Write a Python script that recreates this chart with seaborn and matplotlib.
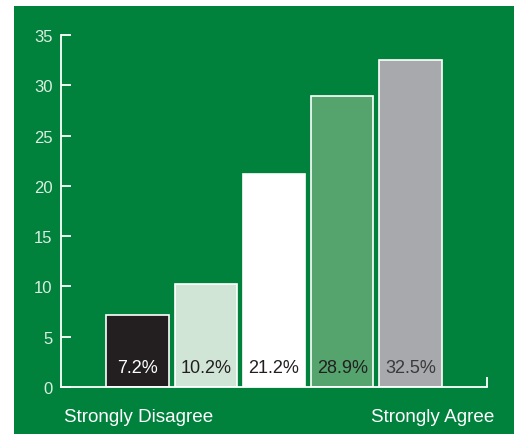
import matplotlib
matplotlib.use("Agg")
import matplotlib.pyplot as plt
import seaborn as sns
import pandas as pd
from matplotlib.patches import Rectangle

categories = ["1", "2", "3", "4", "5"]
values = [7.2, 10.2, 21.2, 28.9, 32.5]
labels = ["7.2%", "10.2%", "21.2%", "28.9%", "32.5%"]
bar_colors = ["#231f20", "#d1e5d6", "#ffffff", "#55a46e", "#a7a9ac"]
label_colors = ["#ffffff", "#231f20", "#231f20", "#231f20", "#3a3a3c"]
yticks = [0, 5, 10, 15, 20, 25, 30, 35]
end_labels = ["Strongly Disagree", "Strongly Agree"]

GREEN = "#00823d"
W, H = 514, 435

sns.set_theme(style="white")
plt.rcParams["font.family"] = ["Liberation Sans", "DejaVu Sans"]

fig = plt.figure(figsize=(W / 100, H / 100), dpi=100)
fig.patch.set_facecolor("white")
fig.patches.append(Rectangle((14 / W, 0), 1 - 14 / W, (H - 7) / H,
                             transform=fig.transFigure, facecolor=GREEN,
                             edgecolor="none", zorder=-10))

ax = fig.add_axes([61 / W, (H - 388) / H, (487 - 61) / W, (388 - 36) / H])
ax.set_zorder(5)
ax.set_facecolor("none")

df = pd.DataFrame({"cat": categories, "val": values})
sns.barplot(data=df, x="cat", y="val", hue="cat", palette=bar_colors,
            legend=False, width=0.91, edgecolor="white", linewidth=1.2,
            saturation=1, ax=ax)

xmin, xmax = -1.12, 5.12
ax.set_xlim(xmin, xmax)
ax.set_ylim(0, 35)
ax.set_yticks(yticks)
ax.set_yticklabels([str(t) for t in yticks])
ax.set_xticks([xmax])
ax.set_xticklabels([""])
ax.set_xlabel("")
ax.set_ylabel("")

for s in ["top", "right"]:
    ax.spines[s].set_visible(False)
for s in ["left", "bottom"]:
    ax.spines[s].set_color("white")
    ax.spines[s].set_linewidth(1.3)

ax.tick_params(axis="y", direction="in", length=7.5, width=1.3, color="white",
               labelcolor="#dcede1", labelsize=12, pad=6, left=True)
ax.tick_params(axis="x", direction="in", length=7.5, width=1.3, color="white",
               bottom=True)

for i, (lab, c) in enumerate(zip(labels, label_colors)):
    ax.text(i, 1.5, lab, ha="center", va="baseline", fontsize=13, color=c)

fig.text(64 / W, 13 / H, end_labels[0], ha="left", va="baseline",
         fontsize=13.6, color="white")
fig.text(494 / W, 13 / H, end_labels[1], ha="right", va="baseline",
         fontsize=13.6, color="white")

fig.savefig("out.png", dpi=100, facecolor=fig.get_facecolor())
